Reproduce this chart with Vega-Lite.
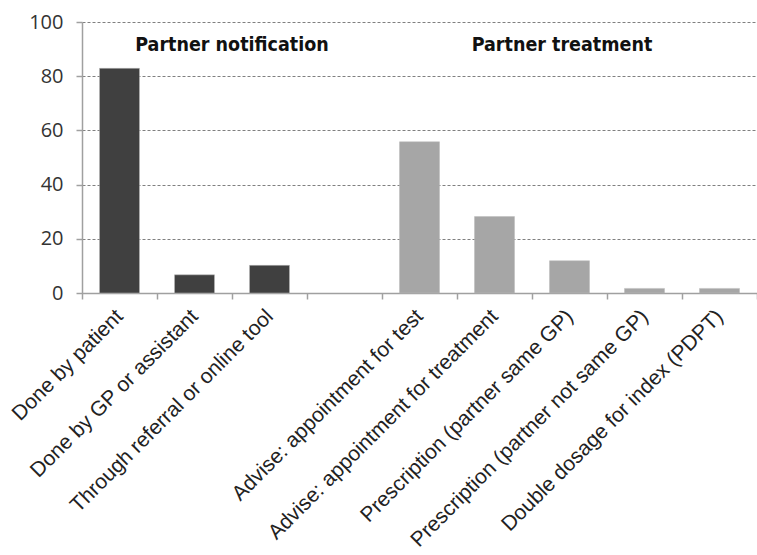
{
  "$schema": "https://vega.github.io/schema/vega-lite/v6.json",
  "width": 675,
  "height": 271,
  "autosize": {"type": "none"},
  "padding": {"left": 82, "top": 22, "right": 0, "bottom": 262},
  "background": "white",
  "config": {"view": {"stroke": null}},
  "layer": [
    {
      "data": {
        "values": [
          {"category": "Done by patient", "group": "Partner notification", "percent": 82.9},
          {"category": "Done by GP or assistant", "group": "Partner notification", "percent": 6.7},
          {"category": "Through referral or online tool", "group": "Partner notification", "percent": 10.2},
          {"category": "Advise: appointment for test", "group": "Partner treatment", "percent": 55.8},
          {"category": "Advise: appointment for treatment", "group": "Partner treatment", "percent": 28.2},
          {"category": "Prescription (partner same GP)", "group": "Partner treatment", "percent": 11.9},
          {"category": "Prescription (partner not same GP)", "group": "Partner treatment", "percent": 1.7},
          {"category": "Double dosage for index (PDPT)", "group": "Partner treatment", "percent": 1.7}
        ]
      },
      "mark": {"type": "bar", "width": 40, "stroke": "#bbbbbb", "strokeWidth": 0.5},
      "encoding": {
        "x": {
          "field": "category",
          "type": "nominal",
          "sort": null,
          "title": null,
          "scale": {
            "domain": ["Done by patient", "Done by GP or assistant", "Through referral or online tool", " ", "Advise: appointment for test", "Advise: appointment for treatment", "Prescription (partner same GP)", "Prescription (partner not same GP)", "Double dosage for index (PDPT)"],
            "paddingInner": 0, "paddingOuter": 0
          },
          "axis": {
            "labelAngle": -45,
            "labelAlign": "right",
            "labelBaseline": "middle",
            "labelPadding": 14,
            "labelFont": "Liberation Sans",
            "labelFontSize": 21,
            "labelColor": "#222222",
            "labelLimit": 400,
            "domainColor": "#a0a0a0",
            "domainWidth": 1.5,
            "tickColor": "#a0a0a0",
            "tickWidth": 1.5,
            "tickSize": 6,
            "tickBand": "extent",
            "grid": false
          }
        },
        "y": {
          "field": "percent",
          "type": "quantitative",
          "title": null,
          "scale": {"domain": [0, 100], "nice": false},
          "axis": {
            "values": [0, 20, 40, 60, 80, 100],
            "grid": true,
            "gridDash": [3, 2],
            "gridColor": "#808080",
            "gridWidth": 1,
            "domainColor": "#a0a0a0",
            "domainWidth": 1.5,
            "tickColor": "#a0a0a0",
            "tickWidth": 1.5,
            "tickSize": 6,
            "labelFont": "Open Sans",
            "labelFontSize": 20,
            "labelColor": "#333333",
            "labelPadding": 13
          }
        },
        "color": {
          "field": "group",
          "type": "nominal",
          "scale": {"domain": ["Partner notification", "Partner treatment"], "range": ["#404040", "#a6a6a6"]},
          "legend": null
        }
      }
    },
    {
      "data": {"values": [{"label": "Partner notification", "anchor": "Done by GP or assistant", "level": 91.5}]},
      "mark": {"type": "text", "font": "DejaVu Sans Condensed", "fontWeight": "bold", "fontSize": 19.5, "color": "#111111", "baseline": "middle", "align": "center"},
      "encoding": {
        "x": {"field": "anchor", "type": "nominal", "bandPosition": 1},
        "y": {"field": "level", "type": "quantitative"},
        "text": {"field": "label"}
      }
    },
    {
      "data": {"values": [{"label": "Partner treatment", "anchor": "Prescription (partner same GP)", "level": 91.5}]},
      "mark": {"type": "text", "font": "DejaVu Sans Condensed", "fontWeight": "bold", "fontSize": 19.5, "color": "#111111", "baseline": "middle", "align": "center"},
      "encoding": {
        "x": {"field": "anchor", "type": "nominal", "bandPosition": 0.4},
        "y": {"field": "level", "type": "quantitative"},
        "text": {"field": "label"}
      }
    }
  ]
}
